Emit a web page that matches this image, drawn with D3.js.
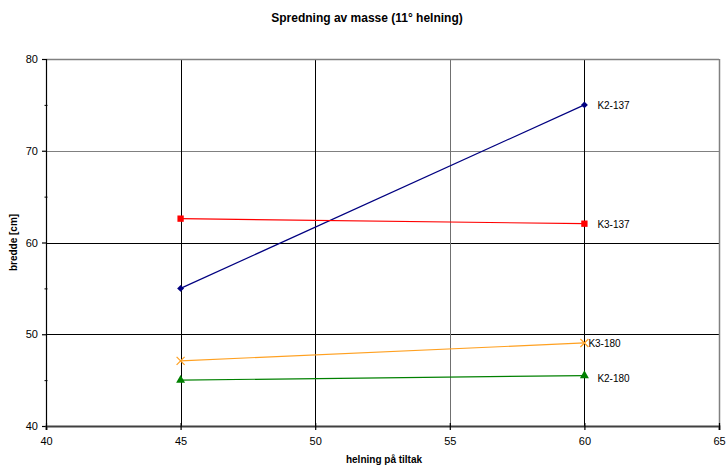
<!DOCTYPE html>
<html><head><meta charset="utf-8">
<script src="https://cdn.jsdelivr.net/npm/d3@7"></script>
<style>body{margin:0;background:#fff;font-family:"Liberation Sans",Arial,sans-serif;}</style>
</head><body>
<svg id="c" width="726" height="466"></svg>
<script>
const xValues = [45, 60];
const seriesNames = ["K2-137", "K3-137", "K3-180", "K2-180"];
const k2_137 = [55, 75];
const k3_137 = [62.6, 62.05];
const k3_180 = [47.1, 49.05];
const k2_180 = [45.0, 45.5];
const xTicks = [40, 45, 50, 55, 60, 65];
const yTicks = [40, 50, 60, 70, 80];
const yMinor = [45, 55, 65, 75];
const title = "Spredning av masse (11° helning)";
const xTitle = "helning på tiltak";
const yTitle = "bredde [cm]";

const series = [
  {name: seriesNames[0], values: k2_137, color: "#000080", sym: "diamond", size: 24},
  {name: seriesNames[1], values: k3_137, color: "#ff0000", sym: d3.symbolSquare, size: 40},
  {name: seriesNames[2], values: k3_180, color: "#ffa020", sym: "x", size: 40},
  {name: seriesNames[3], values: k2_180, color: "#008000", sym: d3.symbolTriangle, size: 35}
];

const svg = d3.select("#c");
const L = 46, R = 719, T = 59, B = 426;
const x = d3.scaleLinear().domain([40, 65]).range([L, R]);
const y = d3.scaleLinear().domain([40, 80]).range([B, T]);

// gridlines
const hGrid = {70: "#808080", 60: "#000", 50: "#000"};
yTicks.filter(v => v > 40 && v < 80).forEach(v => {
  svg.append("line").attr("x1", L).attr("x2", R).attr("y1", Math.round(y(v)) + 0.5).attr("y2", Math.round(y(v)) + 0.5)
    .attr("stroke", hGrid[v]).attr("stroke-width", 1);
});
const vGrid = {45: "#000", 50: "#000", 55: "#707070", 60: "#000"};
xTicks.filter(v => v > 40 && v < 65).forEach(v => {
  svg.append("line").attr("y1", T).attr("y2", B).attr("x1", Math.round(x(v)) + 0.5).attr("x2", Math.round(x(v)) + 0.5)
    .attr("stroke", vGrid[v]).attr("stroke-width", 1);
});
// plot border top/right
svg.append("line").attr("x1", L).attr("x2", R).attr("y1", T + 0.5).attr("y2", T + 0.5).attr("stroke", "#808080").attr("stroke-width", 1.5);
svg.append("line").attr("x1", R + 0.5).attr("x2", R + 0.5).attr("y1", T).attr("y2", B).attr("stroke", "#808080").attr("stroke-width", 1.5);

// axes
const yAxis = d3.axisLeft(y).tickValues(yTicks).tickSize(4).tickPadding(4);
const gy = svg.append("g").attr("transform", `translate(${L},0)`).call(yAxis);
gy.select(".domain").attr("stroke", "#000").attr("stroke-width", 1.2);
gy.selectAll(".tick line").attr("stroke", "#000").attr("stroke-width", 1.2);
gy.selectAll("text").attr("font-size", 11).attr("font-family", "Liberation Sans, Arial, sans-serif").attr("fill", "#000");
const yMin = d3.axisLeft(y).tickValues(yMinor).tickSize(3).tickFormat("");
const gym = svg.append("g").attr("transform", `translate(${L + 1.5},0)`).call(yMin);
gym.select(".domain").remove();
gym.selectAll(".tick line").attr("stroke", "#000");

const xAxis = d3.axisBottom(x).tickValues(xTicks).tickSize(4).tickPadding(7);
const gx = svg.append("g").attr("transform", `translate(0,${B})`).call(xAxis);
gx.select(".domain").attr("stroke", "#404040").attr("stroke-width", 2);
gx.selectAll(".tick line").attr("stroke", "#000").attr("stroke-width", 1.2).attr("y1", -3);
gx.selectAll("text").attr("font-size", 11).attr("font-family", "Liberation Sans, Arial, sans-serif").attr("fill", "#000");

// lines and markers
const line = d3.line().x((d, i) => x(xValues[i])).y(d => y(d));
series.forEach(s => {
  svg.append("path").datum(s.values).attr("d", line).attr("fill", "none").attr("stroke", s.color).attr("stroke-width", 1.2);
  s.values.forEach((v, i) => {
    const cx = x(xValues[i]), cy = y(v);
    if (s.sym === "x") {
      svg.append("path").attr("d", `M${cx-4},${cy-4}L${cx+4},${cy+4}M${cx-4},${cy+4}L${cx+4},${cy-4}`)
        .attr("stroke", s.color).attr("stroke-width", 1.2);
    } else if (s.sym === "diamond") {
      svg.append("path").attr("d", d3.symbol().type(d3.symbolSquare).size(s.size)()).attr("transform", `translate(${cx},${cy}) rotate(45)`).attr("fill", s.color);
    } else {
      svg.append("path").attr("d", d3.symbol().type(s.sym).size(s.size)()).attr("transform", `translate(${cx},${cy})`).attr("fill", s.color);
    }
  });
  const last = s.values[s.values.length - 1];
  const dx = s.sym === "x" ? 4 : 13;
  svg.append("text").attr("x", x(xValues[1]) + dx).attr("y", y(last) + (s.name === "K2-180" ? 6 : 4))
    .attr("font-size", 10).attr("fill", "#000").text(s.name);
});

// titles
svg.append("text").attr("x", 367).attr("y", 22).attr("text-anchor", "middle").attr("font-size", 12).attr("font-weight", "bold").text(title);
svg.append("text").attr("x", 384).attr("y", 463).attr("text-anchor", "middle").attr("font-size", 10).attr("font-weight", "bold").text(xTitle);
svg.append("text").attr("transform", `translate(17,${(T + B) / 2}) rotate(-90)`).attr("text-anchor", "middle").attr("font-size", 10).attr("font-weight", "bold").text(yTitle);
</script>
</body></html>
